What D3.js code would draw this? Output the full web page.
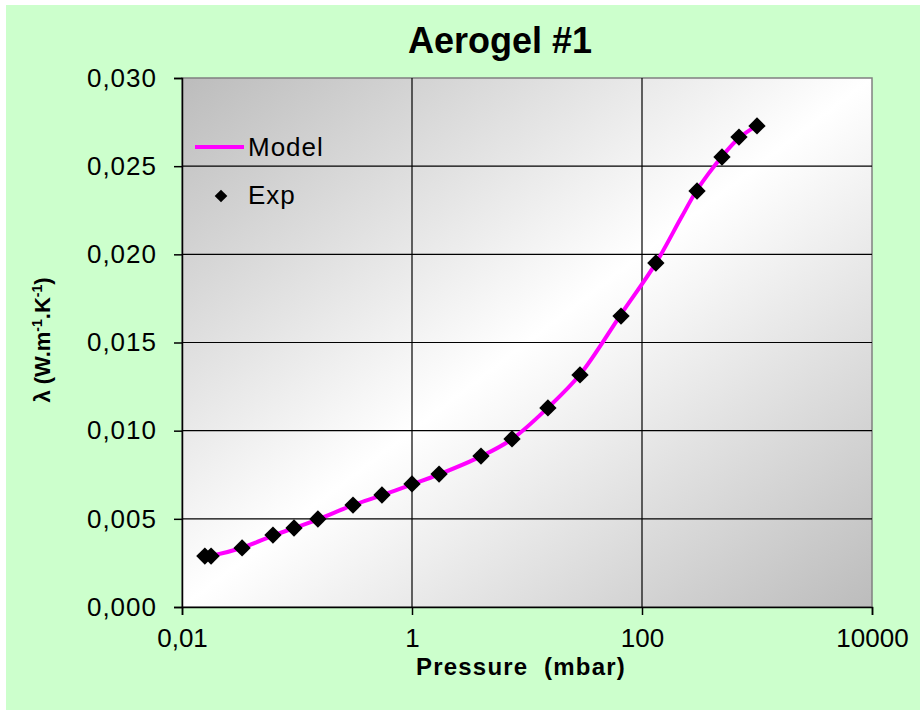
<!DOCTYPE html>
<html>
  <head>
    <meta charset="utf-8" />
    <title>Aerogel #1</title>
    <script src="https://d3js.org/d3.v7.min.js"></script>
    <style>
      body { margin: 0; background: #fff; }
      svg text { font-family: "Liberation Sans", Arial, sans-serif; }
    </style>
  </head>
  <body>
    <svg width="920" height="711"></svg>

    <script>
      // Experimental points (pressure in mbar, conductivity in W/m/K)
      const expPressure = [0.0158, 0.0179, 0.0333, 0.0618, 0.0942, 0.152, 0.307, 0.548, 1.0, 1.72,
        3.98, 7.41, 15.2, 28.9, 65.7, 132, 301, 496, 697, 1000];
      const expLambda = [0.00289, 0.00289, 0.00335, 0.00408, 0.00448, 0.00499, 0.00578, 0.00635, 0.00698, 0.00754,
        0.00856, 0.00953, 0.01129, 0.01316, 0.0165, 0.01951, 0.02359, 0.02552, 0.02665, 0.02728];

      // Model curve
      const modelPressure = [0.0158, 0.0179, 0.0333, 0.0618, 0.0942, 0.152, 0.307, 0.548, 1.0, 1.72,
        3.98, 7.41, 15.2, 28.9, 65.7, 132, 220, 301, 496, 697, 1000];
      const modelLambda = [0.00285, 0.00290, 0.00336, 0.00405, 0.00447, 0.00497, 0.00578, 0.00634, 0.00695, 0.00752,
        0.00854, 0.00952, 0.01130, 0.01318, 0.0166, 0.01950, 0.0221, 0.02365, 0.02555, 0.02660, 0.02730];

      const yTicks = [0, 0.005, 0.01, 0.015, 0.02, 0.025, 0.03];
      const xTicks = [0.01, 1, 100, 10000];
      const xTickLabels = ["0,01", "1", "100", "10000"];

      const svg = d3.select("svg");
      const plot = { left: 182, top: 78, right: 872, bottom: 607 };

      // chart area background
      svg.append("rect")
        .attr("x", 6).attr("y", 5)
        .attr("width", 914).attr("height", 705)
        .attr("fill", "#ccffcc");

      const defs = svg.append("defs");
      const grad = defs.append("linearGradient")
        .attr("id", "plotbg")
        .attr("x1", 0).attr("y1", 0).attr("x2", 1).attr("y2", 1);
      grad.append("stop").attr("offset", 0).attr("stop-color", "#bcbcbc");
      grad.append("stop").attr("offset", 0.5).attr("stop-color", "#ffffff");
      grad.append("stop").attr("offset", 1).attr("stop-color", "#bcbcbc");

      const x = d3.scaleLog().domain([0.01, 10000]).range([plot.left, plot.right]);
      const y = d3.scaleLinear().domain([0, 0.03]).range([plot.bottom, plot.top]);

      svg.append("rect")
        .attr("x", plot.left).attr("y", plot.top)
        .attr("width", plot.right - plot.left)
        .attr("height", plot.bottom - plot.top)
        .attr("fill", "url(#plotbg)")
        .attr("stroke", "#808080")
        .attr("stroke-width", 1.5);

      // gridlines
      svg.append("g")
        .selectAll("line")
        .data(yTicks.slice(1, -1))
        .join("line")
        .attr("x1", plot.left).attr("x2", plot.right)
        .attr("y1", (d) => y(d)).attr("y2", (d) => y(d))
        .attr("stroke", "#000").attr("stroke-width", 1.2);

      svg.append("g")
        .selectAll("line")
        .data(xTicks.slice(1, -1))
        .join("line")
        .attr("x1", (d) => x(d)).attr("x2", (d) => x(d))
        .attr("y1", plot.top).attr("y2", plot.bottom)
        .attr("stroke", "#000").attr("stroke-width", 1.2);

      // axes
      const fmtY = (d) => d3.format(".3f")(d).replace(".", ",");
      const yAxis = svg.append("g")
        .attr("transform", `translate(${plot.left},0)`)
        .call(d3.axisLeft(y).tickValues(yTicks).tickFormat(fmtY).tickSize(8).tickPadding(17));

      const xAxis = svg.append("g")
        .attr("transform", `translate(0,${plot.bottom})`)
        .call(d3.axisBottom(x).tickValues(xTicks)
          .tickFormat((d, i) => xTickLabels[i]).tickSize(8).tickPadding(14));

      [yAxis, xAxis].forEach((a) => {
        a.select(".domain").attr("stroke", "#000").attr("stroke-width", 1.5);
        a.selectAll(".tick line").attr("stroke", "#000").attr("stroke-width", 1.5);
        a.selectAll(".tick text")
          .attr("font-family", "Liberation Sans, Arial, sans-serif")
          .attr("font-size", 26)
          .attr("fill", "#000");
      });
      yAxis.selectAll(".tick text").attr("letter-spacing", 1);

      // model line
      const model = modelPressure.map((p, i) => [p, modelLambda[i]]);
      const line = d3.line()
        .x((d) => x(d[0]))
        .y((d) => y(d[1]))
        .curve(d3.curveCatmullRom.alpha(0.5));

      svg.append("path")
        .datum(model)
        .attr("d", line)
        .attr("fill", "none")
        .attr("stroke", "#ff00ff")
        .attr("stroke-width", 4);

      // experimental markers
      const diamond = d3.symbol().type(d3.symbolSquare).size(150);
      svg.append("g")
        .selectAll("path")
        .data(expPressure.map((p, i) => [p, expLambda[i]]))
        .join("path")
        .attr("d", diamond)
        .attr("transform", (d) => `translate(${x(d[0])},${y(d[1])}) rotate(45)`)
        .attr("fill", "#000");

      // legend
      const legend = svg.append("g");
      legend.append("line")
        .attr("x1", 195).attr("x2", 244)
        .attr("y1", 147).attr("y2", 147)
        .attr("stroke", "#ff00ff").attr("stroke-width", 4);
      legend.append("text")
        .attr("x", 248).attr("y", 156)
        .attr("font-size", 26)
        .attr("letter-spacing", 1)
        .text("Model");
      legend.append("path")
        .attr("d", d3.symbol().type(d3.symbolSquare).size(80))
        .attr("transform", "translate(221,196) rotate(45)")
        .attr("fill", "#000");
      legend.append("text")
        .attr("x", 248).attr("y", 204)
        .attr("font-size", 26)
        .attr("letter-spacing", 1)
        .text("Exp");

      // title
      svg.append("text")
        .attr("x", 500).attr("y", 53)
        .attr("text-anchor", "middle")
        .attr("font-size", 36)
        .attr("font-weight", "bold")
        .text("Aerogel #1");

      // x axis title
      svg.append("text")
        .attr("x", 521).attr("y", 675)
        .attr("text-anchor", "middle")
        .attr("font-size", 24)
        .attr("font-weight", "bold")
        .attr("letter-spacing", 1.2)
        .style("white-space", "pre")
        .text("Pressure  (mbar)");

      // y axis title
      const yTitle = svg.append("text")
        .attr("transform", "translate(50,340) rotate(-90)")
        .attr("text-anchor", "middle")
        .attr("font-size", 22)
        .attr("font-weight", "bold");
      yTitle.append("tspan").text("λ (W.m");
      yTitle.append("tspan").attr("dy", -8).attr("font-size", 14).text("-1");
      yTitle.append("tspan").attr("dy", 8).text(".K");
      yTitle.append("tspan").attr("dy", -8).attr("font-size", 14).text("-1");
      yTitle.append("tspan").attr("dy", 8).text(")");
    </script>
  </body>
</html>
